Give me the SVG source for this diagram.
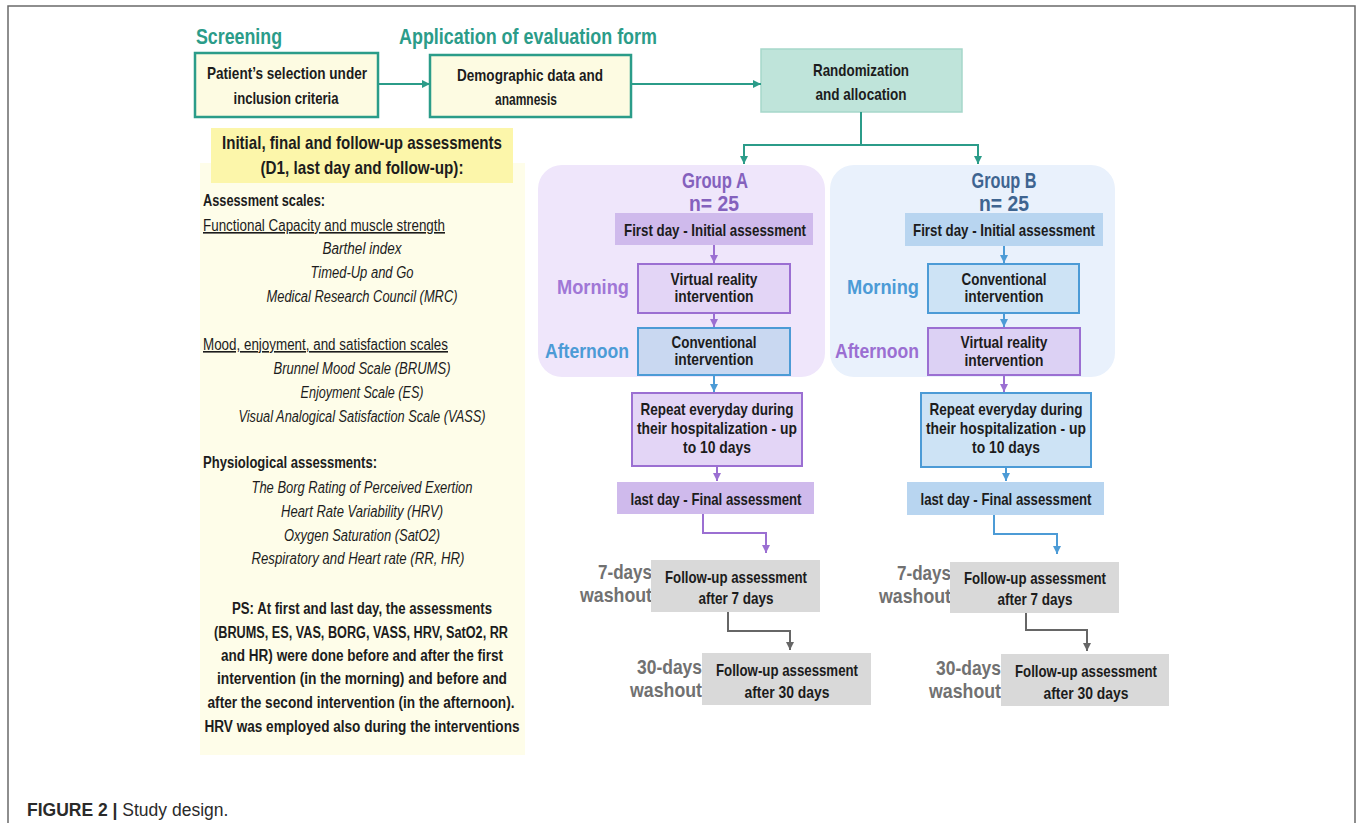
<svg xmlns="http://www.w3.org/2000/svg" width="1357" height="823" viewBox="0 0 1357 823">
<defs>
<style>
text{font-family:"Liberation Sans",Arial,sans-serif;fill:#1c1c1c}
.b{font-weight:bold}
.m{text-anchor:middle}
.e{text-anchor:end}
.t{font-size:17px;font-weight:bold}
.p{font-size:16px}
.i{font-size:16px;font-style:italic;text-anchor:middle}
.teal{fill:#2b9c89;font-weight:bold;font-size:22px}
.lbl{font-weight:bold;font-size:21px;text-anchor:end}
.gw{fill:#717171}
.c{fill:none;stroke-width:2}
</style>
<marker id="mt" viewBox="0 0 8 8" refX="8" refY="4" markerWidth="8" markerHeight="8" markerUnits="userSpaceOnUse" orient="auto"><path d="M0,0L8,4L0,8z" fill="#2b9c89"/></marker>
<marker id="mp" viewBox="0 0 8 8" refX="8" refY="4" markerWidth="8" markerHeight="8" markerUnits="userSpaceOnUse" orient="auto"><path d="M0,0L8,4L0,8z" fill="#9b6fd2"/></marker>
<marker id="mb" viewBox="0 0 8 8" refX="8" refY="4" markerWidth="8" markerHeight="8" markerUnits="userSpaceOnUse" orient="auto"><path d="M0,0L8,4L0,8z" fill="#4c9bd6"/></marker>
<marker id="mg" viewBox="0 0 8 8" refX="8" refY="4" markerWidth="8" markerHeight="8" markerUnits="userSpaceOnUse" orient="auto"><path d="M0,0L8,4L0,8z" fill="#666"/></marker>
</defs>
<rect width="1357" height="823" fill="#fff"/>
<path d="M8,823V6H1355V823" fill="none" stroke="#6a6a6a" stroke-width="1.5"/>

<g id="headings">
<text class="teal" x="196" y="44" textLength="86" lengthAdjust="spacingAndGlyphs">Screening</text>
<text class="teal" x="399" y="44" textLength="258" lengthAdjust="spacingAndGlyphs">Application of evaluation form</text>
</g>

<g id="n-selection">
<rect x="195" y="53" width="183" height="64" fill="#fdfbe2" stroke="#2b9c89" stroke-width="2.5"/>
<text class="t m" x="287" y="79" textLength="160" lengthAdjust="spacingAndGlyphs">Patient’s selection under</text>
<text class="t m" x="286" y="104" textLength="105" lengthAdjust="spacingAndGlyphs">inclusion criteria</text>
</g>
<g id="n-demographic">
<rect x="430" y="55" width="201" height="62" fill="#fdfbe2" stroke="#2b9c89" stroke-width="2.5"/>
<text class="t m" x="530" y="81" textLength="146" lengthAdjust="spacingAndGlyphs">Demographic data and</text>
<text class="t m" x="526" y="105" textLength="62" lengthAdjust="spacingAndGlyphs">anamnesis</text>
</g>
<g id="n-random">
<rect x="761" y="49" width="201" height="63" fill="#bfe4da" stroke="#a6d7ca" stroke-width="1.5"/>
<text class="t m" x="861" y="76" textLength="96" lengthAdjust="spacingAndGlyphs">Randomization</text>
<text class="t m" x="861" y="100" textLength="91" lengthAdjust="spacingAndGlyphs">and allocation</text>
</g>

<g id="n-assessments">
<rect x="200" y="163" width="325" height="592" fill="#fefde9"/>
<rect x="211" y="128" width="302" height="55" fill="#fcf6aa"/>
<text class="m b" x="362" y="149" font-size="18.5" textLength="280" lengthAdjust="spacingAndGlyphs">Initial, final and follow-up assessments</text>
<text class="m b" x="362" y="174" font-size="18.5" textLength="203" lengthAdjust="spacingAndGlyphs">(D1, last day and follow-up):</text>
<text class="p b" x="203" y="206" textLength="122" lengthAdjust="spacingAndGlyphs">Assessment scales:</text>
<text class="p" x="203" y="231" text-decoration="underline" textLength="242" lengthAdjust="spacingAndGlyphs">Functional Capacity and muscle strength</text>
<text class="i" x="362" y="254" textLength="79" lengthAdjust="spacingAndGlyphs">Barthel index</text>
<text class="i" x="362" y="278" textLength="103" lengthAdjust="spacingAndGlyphs">Timed-Up and Go</text>
<text class="i" x="362" y="302" textLength="191" lengthAdjust="spacingAndGlyphs">Medical Research Council (MRC)</text>
<text class="p" x="203" y="350" text-decoration="underline" textLength="245" lengthAdjust="spacingAndGlyphs">Mood, enjoyment, and satisfaction scales</text>
<text class="i" x="362" y="374" textLength="177" lengthAdjust="spacingAndGlyphs">Brunnel Mood Scale (BRUMS)</text>
<text class="i" x="362" y="398" textLength="123" lengthAdjust="spacingAndGlyphs">Enjoyment Scale (ES)</text>
<text class="i" x="362" y="422" textLength="247" lengthAdjust="spacingAndGlyphs">Visual Analogical Satisfaction Scale (VASS)</text>
<text class="p b" x="203" y="468" textLength="174" lengthAdjust="spacingAndGlyphs">Physiological assessments:</text>
<text class="i" x="362" y="493" textLength="221" lengthAdjust="spacingAndGlyphs">The Borg Rating of Perceived Exertion</text>
<text class="i" x="362" y="517" textLength="162" lengthAdjust="spacingAndGlyphs">Heart Rate Variability (HRV)</text>
<text class="i" x="362" y="541" textLength="156" lengthAdjust="spacingAndGlyphs">Oxygen Saturation (SatO2)</text>
<text class="i" x="358" y="564" textLength="213" lengthAdjust="spacingAndGlyphs">Respiratory and Heart rate (RR, HR)</text>
<text class="p b m" x="362" y="614" textLength="260" lengthAdjust="spacingAndGlyphs">PS: At first and last day, the assessments</text>
<text class="p b m" x="361" y="638" textLength="294" lengthAdjust="spacingAndGlyphs">(BRUMS, ES, VAS, BORG, VASS, HRV, SatO2, RR</text>
<text class="p b m" x="362" y="661" textLength="282" lengthAdjust="spacingAndGlyphs">and HR) were done before and after the first</text>
<text class="p b m" x="362" y="684" textLength="290" lengthAdjust="spacingAndGlyphs">intervention (in the morning) and before and</text>
<text class="p b m" x="361" y="708" textLength="307" lengthAdjust="spacingAndGlyphs">after the second intervention (in the afternoon).</text>
<text class="p b m" x="362" y="732" textLength="315" lengthAdjust="spacingAndGlyphs">HRV was employed also during the interventions</text>
</g>

<g id="groupA">
<rect x="538" y="165" width="287" height="212" rx="24" fill="#efe6fb"/>
<text class="b m" x="715" y="188" font-size="21.5" style="fill:#8461bd" textLength="66" lengthAdjust="spacingAndGlyphs">Group A</text>
<text class="b m" x="714" y="211" font-size="21.5" style="fill:#8461bd" textLength="50" lengthAdjust="spacingAndGlyphs">n= 25</text>
</g>
<g id="groupB">
<rect x="830" y="165" width="285" height="212" rx="24" fill="#e9f1fc"/>
<text class="b m" x="1004" y="188" font-size="21.5" style="fill:#3e6490" textLength="65" lengthAdjust="spacingAndGlyphs">Group B</text>
<text class="b m" x="1004" y="211" font-size="21.5" style="fill:#3e6490" textLength="50" lengthAdjust="spacingAndGlyphs">n= 25</text>
</g>

<g id="a-first">
<rect x="615" y="213" width="198" height="32" fill="#cfbaec"/>
<text class="t m" x="715" y="236" textLength="182" lengthAdjust="spacingAndGlyphs">First day - Initial assessment</text>
</g>
<g id="a-morning">
<text class="lbl" x="629" y="294" style="fill:#a077d6" textLength="72" lengthAdjust="spacingAndGlyphs">Morning</text>
<rect x="638" y="264" width="152" height="49" fill="#e3d5f6" stroke="#9b6fd2" stroke-width="2"/>
<text class="t m" x="714" y="285" textLength="87" lengthAdjust="spacingAndGlyphs">Virtual reality</text>
<text class="t m" x="714" y="302" textLength="79" lengthAdjust="spacingAndGlyphs">intervention</text>
</g>
<g id="a-afternoon">
<text class="lbl" x="629" y="358" style="fill:#4c9bd6" textLength="84" lengthAdjust="spacingAndGlyphs">Afternoon</text>
<rect x="638" y="328" width="152" height="47" fill="#c9d8f1" stroke="#4c9bd6" stroke-width="2"/>
<text class="t m" x="714" y="348" textLength="85" lengthAdjust="spacingAndGlyphs">Conventional</text>
<text class="t m" x="714" y="365" textLength="79" lengthAdjust="spacingAndGlyphs">intervention</text>
</g>
<g id="a-repeat">
<rect x="632" y="393" width="170" height="73" fill="#e3d5f6" stroke="#9b6fd2" stroke-width="2"/>
<text class="t m" x="717" y="415" textLength="153" lengthAdjust="spacingAndGlyphs">Repeat everyday during</text>
<text class="t m" x="717" y="434" textLength="160" lengthAdjust="spacingAndGlyphs">their hospitalization - up</text>
<text class="t m" x="717" y="453" textLength="68" lengthAdjust="spacingAndGlyphs">to 10 days</text>
</g>
<g id="a-last">
<rect x="617" y="482" width="197" height="32" fill="#cfbaec"/>
<text class="t m" x="716" y="505" textLength="171" lengthAdjust="spacingAndGlyphs">last day - Final assessment</text>
</g>
<g id="a-fu7">
<text class="lbl gw" x="652" y="579" textLength="54" lengthAdjust="spacingAndGlyphs">7-days</text>
<text class="lbl gw" x="652" y="602" textLength="72" lengthAdjust="spacingAndGlyphs">washout</text>
<rect x="651" y="560" width="169" height="52" fill="#d9d9d9"/>
<text class="t m" x="736" y="583" textLength="142" lengthAdjust="spacingAndGlyphs">Follow-up assessment</text>
<text class="t m" x="736" y="604" textLength="75" lengthAdjust="spacingAndGlyphs">after 7 days</text>
</g>
<g id="a-fu30">
<text class="lbl gw" x="702" y="674" textLength="65" lengthAdjust="spacingAndGlyphs">30-days</text>
<text class="lbl gw" x="702" y="697" textLength="72" lengthAdjust="spacingAndGlyphs">washout</text>
<rect x="702" y="653" width="169" height="52" fill="#d9d9d9"/>
<text class="t m" x="787" y="676" textLength="142" lengthAdjust="spacingAndGlyphs">Follow-up assessment</text>
<text class="t m" x="787" y="698" textLength="85" lengthAdjust="spacingAndGlyphs">after 30 days</text>
</g>

<g id="b-first">
<rect x="905" y="213" width="198" height="33" fill="#b8d5f0"/>
<text class="t m" x="1004" y="236" textLength="182" lengthAdjust="spacingAndGlyphs">First day - Initial assessment</text>
</g>
<g id="b-morning">
<text class="lbl" x="919" y="294" style="fill:#4c9bd6" textLength="72" lengthAdjust="spacingAndGlyphs">Morning</text>
<rect x="928" y="264" width="151" height="49" fill="#cde3f5" stroke="#4c9bd6" stroke-width="2"/>
<text class="t m" x="1004" y="285" textLength="85" lengthAdjust="spacingAndGlyphs">Conventional</text>
<text class="t m" x="1004" y="302" textLength="79" lengthAdjust="spacingAndGlyphs">intervention</text>
</g>
<g id="b-afternoon">
<text class="lbl" x="919" y="358" style="fill:#9b6fd2" textLength="84" lengthAdjust="spacingAndGlyphs">Afternoon</text>
<rect x="928" y="328" width="152" height="47" fill="#dcd1f4" stroke="#9b6fd2" stroke-width="2"/>
<text class="t m" x="1004" y="348" textLength="87" lengthAdjust="spacingAndGlyphs">Virtual reality</text>
<text class="t m" x="1004" y="366" textLength="79" lengthAdjust="spacingAndGlyphs">intervention</text>
</g>
<g id="b-repeat">
<rect x="921" y="393" width="170" height="74" fill="#cde3f5" stroke="#4c9bd6" stroke-width="2"/>
<text class="t m" x="1006" y="415" textLength="153" lengthAdjust="spacingAndGlyphs">Repeat everyday during</text>
<text class="t m" x="1006" y="434" textLength="160" lengthAdjust="spacingAndGlyphs">their hospitalization - up</text>
<text class="t m" x="1006" y="453" textLength="68" lengthAdjust="spacingAndGlyphs">to 10 days</text>
</g>
<g id="b-last">
<rect x="907" y="482" width="197" height="33" fill="#b8d5f0"/>
<text class="t m" x="1006" y="505" textLength="171" lengthAdjust="spacingAndGlyphs">last day - Final assessment</text>
</g>
<g id="b-fu7">
<text class="lbl gw" x="951" y="580" textLength="54" lengthAdjust="spacingAndGlyphs">7-days</text>
<text class="lbl gw" x="951" y="603" textLength="72" lengthAdjust="spacingAndGlyphs">washout</text>
<rect x="950" y="562" width="169" height="51" fill="#d9d9d9"/>
<text class="t m" x="1035" y="584" textLength="142" lengthAdjust="spacingAndGlyphs">Follow-up assessment</text>
<text class="t m" x="1035" y="605" textLength="75" lengthAdjust="spacingAndGlyphs">after 7 days</text>
</g>
<g id="b-fu30">
<text class="lbl gw" x="1001" y="675" textLength="65" lengthAdjust="spacingAndGlyphs">30-days</text>
<text class="lbl gw" x="1001" y="698" textLength="72" lengthAdjust="spacingAndGlyphs">washout</text>
<rect x="1001" y="654" width="168" height="52" fill="#d9d9d9"/>
<text class="t m" x="1086" y="677" textLength="142" lengthAdjust="spacingAndGlyphs">Follow-up assessment</text>
<text class="t m" x="1086" y="699" textLength="85" lengthAdjust="spacingAndGlyphs">after 30 days</text>
</g>

<g id="connectors">
<path class="c" stroke="#2b9c89" marker-end="url(#mt)" d="M378,84H430"/>
<path class="c" stroke="#2b9c89" marker-end="url(#mt)" d="M631,84H761"/>
<path class="c" stroke="#2b9c89" marker-end="url(#mt)" d="M861,112V145H744V164"/>
<path class="c" stroke="#2b9c89" marker-end="url(#mt)" d="M861,145H978V164"/>
<path class="c" stroke="#9b6fd2" marker-end="url(#mp)" d="M714,245V263"/>
<path class="c" stroke="#9b6fd2" marker-end="url(#mp)" d="M714,313V327"/>
<path class="c" stroke="#4c9bd6" marker-end="url(#mb)" d="M714,375V392"/>
<path class="c" stroke="#9b6fd2" marker-end="url(#mp)" d="M717,466V481"/>
<path class="c" stroke="#9b6fd2" marker-end="url(#mp)" d="M703,514V533H766V553"/>
<path class="c" stroke="#666" marker-end="url(#mg)" d="M728,612V631H790V650"/>
<path class="c" stroke="#4c9bd6" marker-end="url(#mb)" d="M1004,246V263"/>
<path class="c" stroke="#4c9bd6" marker-end="url(#mb)" d="M1004,313V327"/>
<path class="c" stroke="#9b6fd2" marker-end="url(#mp)" d="M1004,375V392"/>
<path class="c" stroke="#4c9bd6" marker-end="url(#mb)" d="M1006,467V481"/>
<path class="c" stroke="#4c9bd6" marker-end="url(#mb)" d="M994,515V534H1057V554"/>
<path class="c" stroke="#666" marker-end="url(#mg)" d="M1026,613V630H1087V651"/>
</g>

<g id="caption">
<text x="27" y="816" font-size="17.5" style="fill:#2a2a2a"><tspan font-weight="bold">FIGURE 2 |</tspan> Study design.</text>
</g>
</svg>
